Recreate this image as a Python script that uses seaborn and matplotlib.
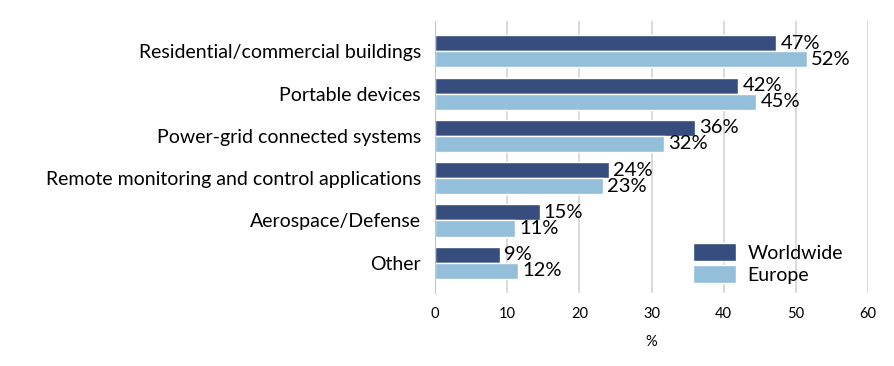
import numpy as np
import pandas as pd
import matplotlib
matplotlib.use("Agg")
import matplotlib.pyplot as plt
import seaborn as sns

categories = ["Residential/commercial buildings", "Portable devices",
              "Power-grid connected systems",
              "Remote monitoring and control applications",
              "Aerospace/Defense", "Other"]
worldwide = [47.3, 42.0, 36.0, 24.1, 14.5, 9.0]
europe = [51.5, 44.5, 31.7, 23.3, 11.1, 11.5]
worldwide_lbl = ["47%", "42%", "36%", "24%", "15%", "9%"]
europe_lbl = ["52%", "45%", "32%", "23%", "11%", "12%"]
series = ["Worldwide", "Europe"]

df = pd.DataFrame({
    "category": categories * 2,
    "value": worldwide + europe,
    "region": ["Worldwide"] * 6 + ["Europe"] * 6,
})

sns.set_style("white")
plt.rcParams["font.family"] = ["Lato", "DejaVu Sans"]
plt.rcParams["text.color"] = "black"
plt.rcParams["xtick.color"] = "black"
plt.rcParams["ytick.color"] = "black"
plt.rcParams["axes.labelcolor"] = "black"

fig, ax = plt.subplots(figsize=(8.95, 3.66), dpi=100)
fig.subplots_adjust(left=0.486, right=0.97, top=0.943, bottom=0.199)

sns.barplot(data=df, y="category", x="value", hue="region", hue_order=series,
            order=categories, orient="h", palette=["#364d7e", "#93bfdb"],
            saturation=1, width=0.76, edgecolor="white", linewidth=1.0, ax=ax)

for cont, lbls in zip(ax.containers, [worldwide_lbl, europe_lbl]):
    ax.bar_label(cont, labels=lbls, padding=3, fontsize=14.5, color="black")

ax.set_xlim(0, 60)
ax.set_xticks(range(0, 61, 10))
ax.set_ylim(5.72, -0.72)
ax.grid(axis="x", color="#d4d4d4", linewidth=1.2)
ax.set_axisbelow(True)
for s in ["top", "right", "bottom"]:
    ax.spines[s].set_visible(False)
ax.spines["left"].set_color("#c4c4c4")
ax.tick_params(axis="y", length=0, labelsize=14, pad=10)
ax.tick_params(axis="x", length=0, labelsize=10.5, pad=10)
ax.set_ylabel("")
ax.set_xlabel("%", fontsize=10.5, labelpad=10)

ax.legend(loc="lower left", bbox_to_anchor=(0.555, -0.03), frameon=False,
          fontsize=14, handlelength=2.2, handleheight=1.0, labelspacing=0.2,
          handletextpad=0.6)

fig.savefig("out.png", dpi=100)
